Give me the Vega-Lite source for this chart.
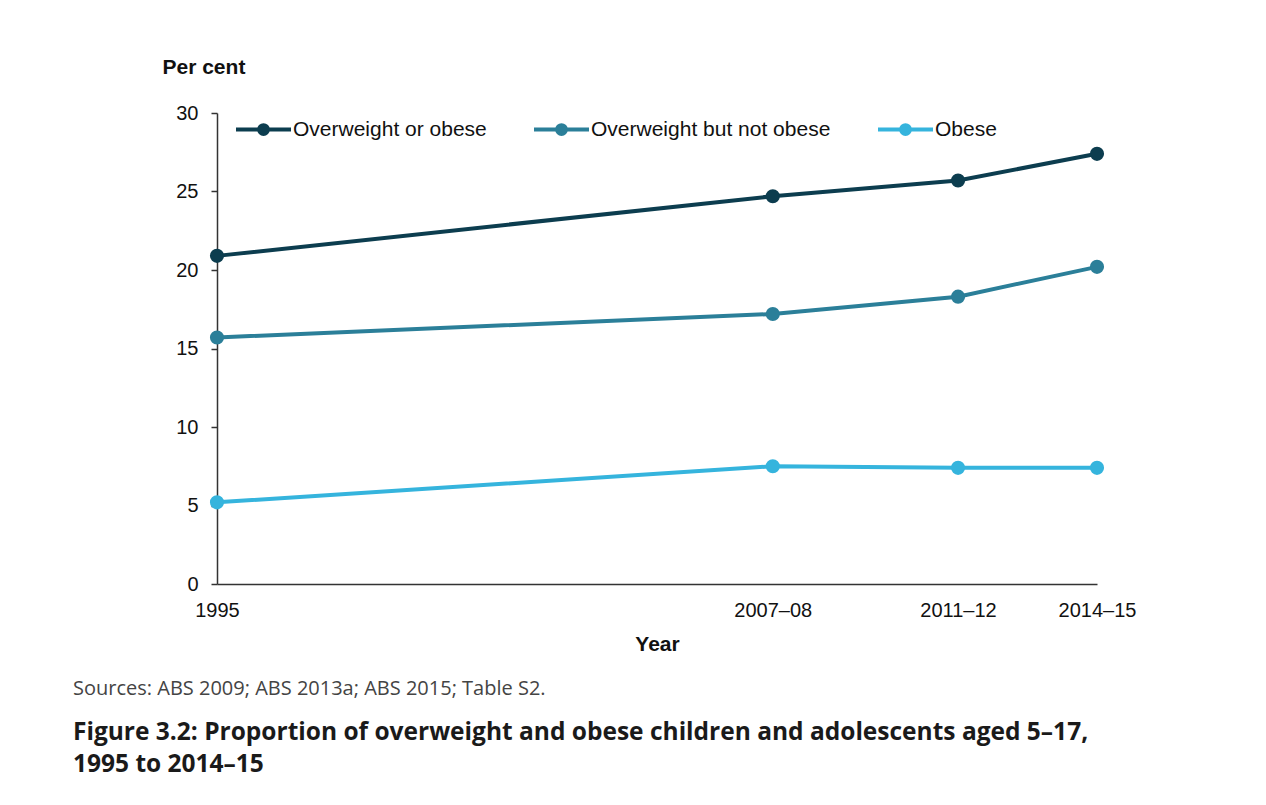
{
  "$schema": "https://vega.github.io/schema/vega-lite/v6.json",
  "autosize": {"type": "none"},
  "width": 880,
  "height": 471,
  "padding": {"left": 217, "top": 113, "right": 169, "bottom": 221},
  "background": "white",
  "data": {"values": [
    {"year": 1995, "series": "Overweight or obese", "value": 20.9},
    {"year": 2007, "series": "Overweight or obese", "value": 24.7},
    {"year": 2011, "series": "Overweight or obese", "value": 25.7},
    {"year": 2014, "series": "Overweight or obese", "value": 27.4},
    {"year": 1995, "series": "Overweight but not obese", "value": 15.7},
    {"year": 2007, "series": "Overweight but not obese", "value": 17.2},
    {"year": 2011, "series": "Overweight but not obese", "value": 18.3},
    {"year": 2014, "series": "Overweight but not obese", "value": 20.2},
    {"year": 1995, "series": "Obese", "value": 5.2},
    {"year": 2007, "series": "Obese", "value": 7.5},
    {"year": 2011, "series": "Obese", "value": 7.4},
    {"year": 2014, "series": "Obese", "value": 7.4}
  ]},
  "title": {
    "text": "Sources: ABS 2009; ABS 2013a; ABS 2015; Table S2.",
    "subtitle": ["Figure 3.2: Proportion of overweight and obese children and adolescents aged 5–17,", "1995 to 2014–15"],
    "orient": "bottom",
    "anchor": "start",
    "frame": "group",
    "dx": -144,
    "offset": 25,
    "font": "Open Sans",
    "fontSize": 20,
    "fontWeight": "normal",
    "color": "#444444",
    "subtitleFont": "Open Sans",
    "subtitleFontSize": 24.5,
    "subtitleFontWeight": "bold",
    "subtitleColor": "#1a1a1a",
    "subtitleLineHeight": 32,
    "subtitlePadding": 22
  },
  "encoding": {
    "x": {
      "field": "year", "type": "quantitative",
      "scale": {"domain": [1995, 2014], "nice": false, "zero": false},
      "axis": {
        "title": "Year",
        "values": [1995, 2007, 2011, 2014],
        "labelExpr": "datum.value == 1995 ? '1995' : datum.value == 2007 ? '2007–08' : datum.value == 2011 ? '2011–12' : '2014–15'",
        "ticks": false,
        "grid": false,
        "labelPadding": 16,
        "titlePadding": 13,
        "labelFlush": false,
        "labelOverlap": false
      }
    },
    "y": {
      "field": "value", "type": "quantitative",
      "scale": {"domain": [0, 30], "nice": false},
      "axis": {
        "title": "Per cent",
        "values": [0, 5, 10, 15, 20, 25, 30],
        "grid": false,
        "tickSize": 6,
        "labelPadding": 13,
        "titleAngle": 0,
        "titleAlign": "left",
        "titleBaseline": "middle",
        "titleX": -55,
        "titleY": -46
      }
    },
    "color": {
      "field": "series", "type": "nominal",
      "scale": {
        "domain": ["Overweight or obese", "Overweight but not obese", "Obese"],
        "range": ["#0c3d4f", "#2b7f99", "#35b4dd"]
      },
      "legend": {
        "title": null,
        "orient": "none",
        "direction": "horizontal",
        "legendX": 17,
        "legendY": -13,
        "symbolType": "M -1 0 L 1 0 M 0.16 0 A 0.16 0.16 0 1 1 -0.16 0 A 0.16 0.16 0 1 1 0.16 0 Z",
        "symbolSize": 3025,
        "symbolStrokeWidth": 4,
        "symbolOpacity": 1,
        "labelFont": "Liberation Sans",
        "labelFontSize": 21,
        "labelColor": "#111111",
        "labelOffset": 0,
        "columnPadding": 39,
        "labelLimit": 400
      }
    }
  },
  "layer": [
    {"mark": {"type": "line", "strokeWidth": 4}},
    {"mark": {"type": "point", "filled": true, "size": 200, "opacity": 1}}
  ],
  "config": {
    "view": {"stroke": null},
    "axis": {
      "labelFont": "Liberation Sans",
      "labelFontSize": 20,
      "labelColor": "#111111",
      "titleFont": "Liberation Sans",
      "titleFontSize": 21,
      "titleFontWeight": "bold",
      "titleColor": "#111111",
      "domainColor": "#333333",
      "domainWidth": 1.5,
      "tickColor": "#333333",
      "tickWidth": 1.5
    }
  }
}
